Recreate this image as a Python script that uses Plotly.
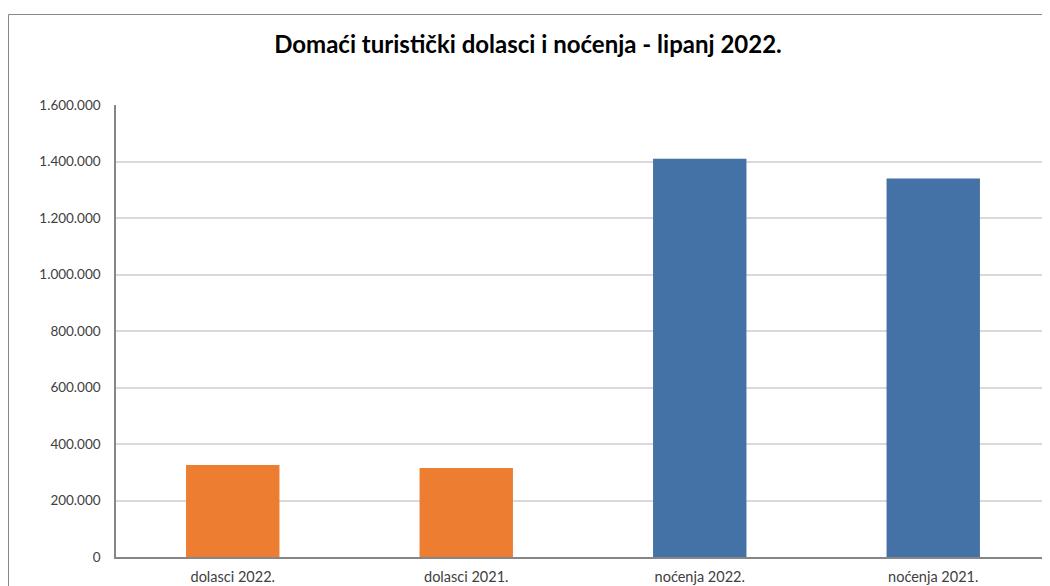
import plotly.graph_objects as go

categories = ["dolasci 2022.", "dolasci 2021.", "noćenja 2022.", "noćenja 2021."]
values = [326000, 315000, 1410000, 1340000]
bar_colors = ["#ED7D31", "#ED7D31", "#4472A7", "#4472A7"]
y_ticks = [0, 200000, 400000, 600000, 800000, 1000000, 1200000, 1400000, 1600000]
title_text = "Domaći turistički dolasci i noćenja - lipanj 2022."

# page body has an 8px margin; coordinates below are relative to the figure
OFF = 8
W, H = 1050 - OFF, 586 - OFF
L, R, T, B = 116 - OFF, 0, 105 - OFF, 29

fig = go.Figure(go.Bar(
    x=categories, y=values, marker=dict(color=bar_colors, line=dict(width=0)),
    width=0.4,
))

pw = W - L - R
ph = H - T - B
fx = lambda px: (px - OFF - L) / pw
fy = lambda py: (H - B - (py - OFF)) / ph

fig.update_layout(
    width=W, height=H,
    margin=dict(l=L, r=R, t=T, b=B),
    paper_bgcolor="white", plot_bgcolor="white",
    separators=",.",
    showlegend=False,
    font=dict(family="Lato, Open Sans, sans-serif", size=13, color="#404040"),
    title=dict(text=title_text, x=(528 - OFF) / W, xanchor="center", y=1 - (45 - OFF) / H, yanchor="middle",
               font=dict(family="Lato, Open Sans, sans-serif", size=24, color="black", weight="bold")),
    xaxis=dict(showgrid=False, showline=True, linecolor="#868686", linewidth=1.5,
               ticks="", ticklabelstandoff=6, tickfont=dict(size=14.5, color="#404040"), fixedrange=True),
    yaxis=dict(range=[0, 1600000], tickvals=y_ticks, tickformat=",d",
               showgrid=True, gridcolor="#D9D9D9", gridwidth=1.5,
               showline=True, linecolor="#868686", linewidth=1.5,
               ticks="", ticklabelstandoff=11, zeroline=False,
               tickfont=dict(size=13.5, color="#404040")),
    shapes=[
        dict(type="line", xref="paper", yref="paper", x0=fx(8.5), x1=fx(1060), y0=fy(14.5), y1=fy(14.5),
             line=dict(color="#888888", width=1)),
        dict(type="line", xref="paper", yref="paper", x0=fx(8.5), x1=fx(8.5), y0=fy(14.5), y1=fy(600),
             line=dict(color="#888888", width=1)),
    ],
)

fig.write_html("out.html")
